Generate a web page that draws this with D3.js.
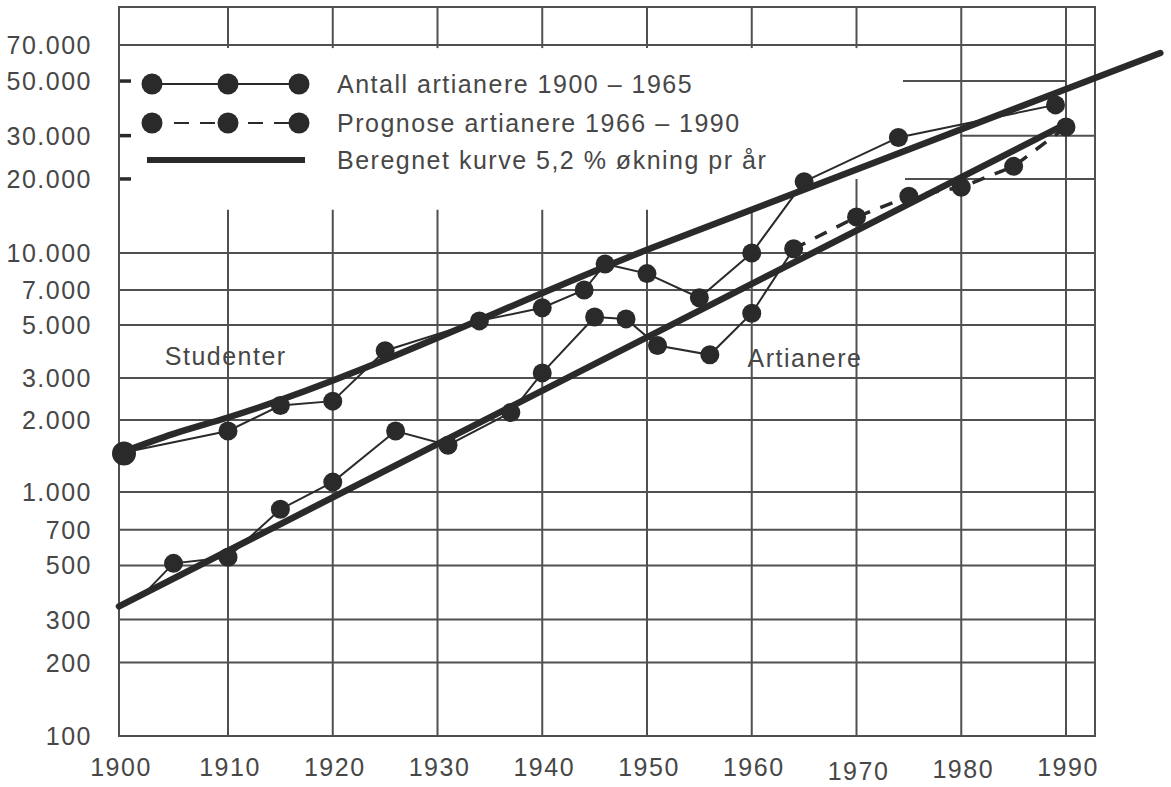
<!DOCTYPE html>
<html><head><meta charset="utf-8">
<script src="https://cdn.jsdelivr.net/npm/d3@7"></script>
<style>
body{margin:0;background:#fff}
text{font-family:"Liberation Sans",Arial,sans-serif;fill:#474747;font-size:25px;letter-spacing:1.5px}
</style>
</head><body>
<svg id="c" width="1171" height="787"></svg>
<script>
// ---------- data ----------
const yTickValues = [100,200,300,500,700,1000,2000,3000,5000,7000,10000,20000,30000,50000,70000];
const yTickLabels = ["100","200","300","500","700","1.000","2.000","3.000","5.000","7.000","10.000","20.000","30.000","50.000","70.000"];
const xTickYears  = [1900,1910,1920,1930,1940,1950,1960,1970,1980,1990];

const studYears  = [1900,1910,1915,1920,1925,1934,1940,1944,1946,1950,1955,1960,1965];
const studValues = [1450,1800,2300,2400,3900,5200,5900,7000,9000,8200,6500,10000,19500];
const studProgYears  = [1965,1974,1989];
const studProgValues = [19500,29500,40000];

// first point (1902) is where the thin line leaves the fitted curve; it has no dot
const artYears  = [1902,1905,1910,1915,1920,1926,1931,1937,1940,1945,1948,1951,1956,1960,1964];
const artValues = [371,510,540,850,1100,1800,1570,2150,3150,5400,5300,4100,3750,5600,10400];
const artProgYears  = [1964,1970,1975,1980,1985,1990];
const artProgValues = [10400,14000,17000,18500,22500,32500];

const studTrendYears  = [1900,1905,1910,1950,1999];
const studTrendValues = [1450,1750,2050,10300,65000];
const artTrendYears  = [1900,1990];
const artTrendValues = [340,33500];

const legendLabels = ["Antall artianere 1900 \u2013 1965","Prognose artianere 1966 \u2013 1990","Beregnet kurve 5,2 % \u00f8kning pr \u00e5r"];
const seriesLabels = ["Studenter","Artianere"];
const seriesLabelYears = [1904.2,1959.6];
const seriesLabelValues = [3700,3650];

// ---------- scales ----------
const svg = d3.select("#c");
const x = d3.scaleLinear().domain([1900,1910,1990]).range([119,228,1066]);
const y = d3.scaleLog().domain([100,1000,10000,100000]).range([736,492,253,7]);
const pLeft = x(1900), pRight = 1095, pTop = y(100000), pBottom = y(100);

const GRID = "#505050", INK = "#2a2a2a";
const g = svg.append("g");

// horizontal grid
const fullH = [200,300,500,700,1000,2000,3000,5000,7000,10000,70000];
g.selectAll(".h").data(fullH).join("line")
  .attr("x1", pLeft).attr("x2", pRight)
  .attr("y1", d=>y(d)).attr("y2", d=>y(d))
  .attr("stroke", GRID).attr("stroke-width", 2);
const partialH = [[20000,905,pRight],[30000,960,pRight],[50000,903,x(1990)]];
g.selectAll(".hp").data(partialH).join("line")
  .attr("x1", d=>d[1]).attr("x2", d=>d[2])
  .attr("y1", d=>y(d[0])).attr("y2", d=>y(d[0]))
  .attr("stroke", GRID).attr("stroke-width", 2);
// left stubs
g.selectAll(".stub").data([20000,30000,50000]).join("line")
  .attr("x1", pLeft).attr("x2", pLeft+12)
  .attr("y1", d=>y(d)).attr("y2", d=>y(d))
  .attr("stroke", INK).attr("stroke-width", 3.5);

// vertical grid
xTickYears.filter(d=>d>1900).forEach(yr=>{
  if (yr >= 1980) {
    g.append("line").attr("x1",x(yr)).attr("x2",x(yr)).attr("y1",pTop).attr("y2",pBottom)
      .attr("stroke",GRID).attr("stroke-width",2);
  } else {
    const brk = yr===1970 ? 20000 : 15000;
    g.append("line").attr("x1",x(yr)).attr("x2",x(yr)).attr("y1",y(brk)).attr("y2",pBottom)
      .attr("stroke",GRID).attr("stroke-width",2);
    g.append("line").attr("x1",x(yr)).attr("x2",x(yr)).attr("y1",pTop).attr("y2",y(70000)+3)
      .attr("stroke",GRID).attr("stroke-width",2);
  }
});
// frame
g.append("rect").attr("x",pLeft).attr("y",pTop).attr("width",pRight-pLeft).attr("height",pBottom-pTop)
  .attr("fill","none").attr("stroke",GRID).attr("stroke-width",2);

// axis labels
svg.selectAll(".yl").data(yTickValues).join("text")
  .attr("x", 92).attr("y", d=>y(d)+9).attr("text-anchor","end")
  .text((d,i)=>yTickLabels[i]);
svg.selectAll(".xl").data(xTickYears).join("text")
  .attr("x", d=>x(d)+2).attr("y", d=>776 + (d===1970?4:(d===1980?2:0)))
  .attr("text-anchor","middle").text(d=>d);

// ---------- marks ----------
const zip = (a,b)=>a.map((v,i)=>[v,b[i]]);
const line = d3.line().x(d=>x(d[0])).y(d=>y(d[1]));
const curveLine = d3.line().x(d=>x(d[0])).y(d=>y(d[1])).curve(d3.curveMonotoneX);

// trend curves
svg.append("path").datum(zip(artTrendYears,artTrendValues)).attr("d",line)
  .attr("fill","none").attr("stroke",INK).attr("stroke-width",6.5).attr("stroke-linecap","round");
svg.append("path").datum(zip(studTrendYears,studTrendValues)).attr("d",curveLine)
  .attr("fill","none").attr("stroke",INK).attr("stroke-width",6.5).attr("stroke-linecap","round");

// actual series
[zip(studYears,studValues), zip(artYears,artValues), zip(studProgYears,studProgValues)].forEach(pts=>{
  svg.append("path").datum(pts).attr("d",line)
    .attr("fill","none").attr("stroke",INK).attr("stroke-width",2);
});
// prognosis (dashed)
svg.append("path").datum(zip(artProgYears,artProgValues)).attr("d",line)
  .attr("fill","none").attr("stroke",INK).attr("stroke-width",3.5).attr("stroke-dasharray","13 11");

// dots
const dots = [].concat(zip(studYears,studValues), zip(studProgYears,studProgValues).slice(1),
                       zip(artYears,artValues).slice(1), zip(artProgYears,artProgValues).slice(1));
svg.selectAll(".dot").data(dots).join("circle")
  .attr("cx", d=>x(d[0])+(d[0]===1900?5:0)).attr("cy", d=>y(d[1]))
  .attr("r", d=>d[0]===1900?12:9.5).attr("fill",INK);

// series labels
svg.selectAll(".sl").data(seriesLabels).join("text")
  .attr("x",(d,i)=>x(seriesLabelYears[i])).attr("y",(d,i)=>y(seriesLabelValues[i])+9)
  .text(d=>d);

// ---------- legend ----------
const lg = svg.append("g");
const rowsY = [84,123,160];
const dotX = [152,228,299];
lg.append("line").attr("x1",dotX[0]).attr("x2",dotX[2]).attr("y1",rowsY[0]).attr("y2",rowsY[0])
  .attr("stroke",INK).attr("stroke-width",2);
lg.append("line").attr("x1",dotX[0]).attr("x2",dotX[2]).attr("y1",rowsY[1]).attr("y2",rowsY[1])
  .attr("stroke",INK).attr("stroke-width",2).attr("stroke-dasharray","0 22 15 11 15 11");
[0,1].forEach(r=>dotX.forEach(cx=>{
  lg.append("circle").attr("cx",cx).attr("cy",rowsY[r]).attr("r",10.5).attr("fill",INK);
}));
lg.append("line").attr("x1",147).attr("x2",305).attr("y1",rowsY[2]).attr("y2",rowsY[2])
  .attr("stroke",INK).attr("stroke-width",6);
lg.selectAll("text").data(legendLabels).join("text")
  .attr("x",337).attr("y",(d,i)=>rowsY[i]+9).text(d=>d);
</script>
</body></html>
